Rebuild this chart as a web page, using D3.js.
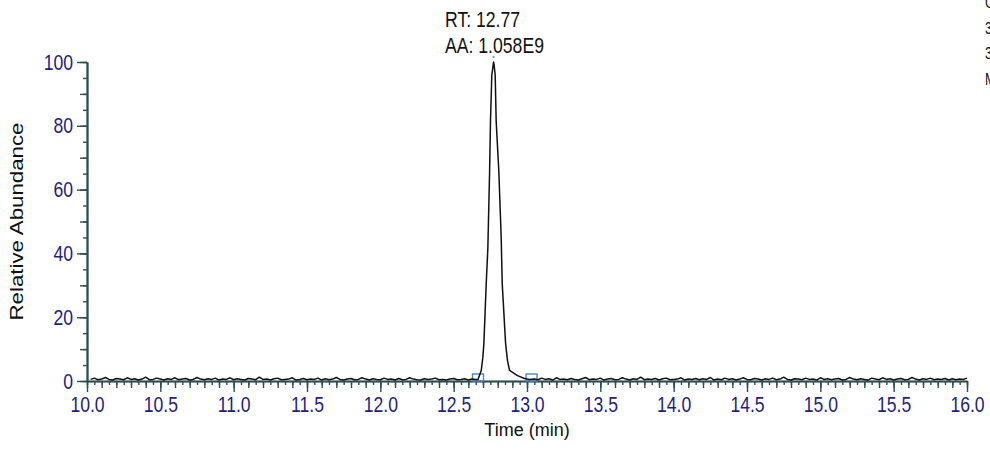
<!DOCTYPE html>
<html>
<head>
<meta charset="utf-8">
<script src="https://cdn.jsdelivr.net/npm/d3@7"></script>
<style>
  body { margin: 0; background: #fff; overflow: hidden; }
  text { font-family: 'Liberation Sans', Arial, sans-serif; }
</style>
</head>
<body>
<div id="chart"></div>
<script>
// baseline noise before the peak, sampled from 10.025 min every 0.025 min
var noiseStart = 10.025;
var noiseStep = 0.025;
var noiseBefore = [
  0.5, 0.9, 0.4, 0.6, 1.1, 0.5, 0.3, 0.8, 0.6, 0.4,
  1.0, 0.5, 0.7, 0.3, 0.6, 1.2, 0.4, 0.5, 0.9, 0.6,
  0.3, 0.7, 0.5, 1.0, 0.4, 0.6, 0.8, 0.3, 0.5, 1.1,
  0.6, 0.4, 0.7, 0.5, 0.9, 0.3, 0.6, 0.5, 1.0, 0.4,
  0.7, 0.5, 0.3, 0.8, 0.6, 0.4, 1.2, 0.5, 0.6, 0.3,
  0.7, 0.9, 0.4, 0.5, 0.6, 1.0, 0.3, 0.5, 0.8, 0.4,
  0.6, 0.5, 0.9, 0.3, 0.7, 0.4, 0.6, 1.1, 0.5, 0.3,
  0.6, 0.8, 0.4, 0.5, 1.0, 0.6, 0.3, 0.7, 0.5, 0.4,
  0.9, 0.5, 0.6, 0.3, 0.8, 0.4, 0.5, 1.0, 0.6, 0.4,
  0.3, 0.7, 0.5, 0.6, 0.9, 0.4, 0.5, 0.3, 0.6, 0.8,
  0.4, 0.5, 0.7, 0.3, 0.6, 0.5
];

// the peak itself
var peakTimes = [12.666, 12.688, 12.699, 12.706, 12.722, 12.733, 12.745, 12.751, 12.760, 12.772, 12.776,
  12.783, 12.790, 12.808, 12.824, 12.831, 12.854, 12.867, 12.881, 12.935, 12.983, 13.017];
var peakValues = [0.5, 3.3, 7.4, 11.8, 30.6, 41.5, 65.6, 81.3, 95.9, 100, 99.0,
  95.9, 81.3, 65.6, 45.0, 30.6, 11.8, 6.4, 3.3, 1.7, 0.8, 0.5];

// baseline noise after the peak, from 13.05 min every 0.025 min
var noiseAfterStart = 13.05;
var noiseAfter = [
  0.6, 0.4, 0.9, 0.5, 0.7, 0.3, 1.0, 0.5, 0.6, 0.4,
  0.8, 0.5, 0.3, 0.7, 1.1, 0.4, 0.6, 0.5, 0.9, 0.3,
  0.6, 0.8, 0.4, 0.5, 1.0, 0.6, 0.3, 0.7, 0.5, 1.2,
  0.4, 0.6, 0.5, 0.8, 0.3, 0.7, 0.9, 0.4, 0.5, 0.6,
  1.0, 0.3, 0.6, 0.5, 0.8, 0.4, 0.7, 0.5, 1.1, 0.3,
  0.6, 0.4, 0.9, 0.5, 0.7, 0.3, 0.6, 1.0, 0.5, 0.4,
  0.8, 0.6, 0.3, 0.7, 0.5, 0.9, 0.4, 0.6, 1.2, 0.5,
  0.3, 0.7, 0.6, 0.4, 0.9, 0.5, 0.6, 0.3, 1.0, 0.5,
  0.7, 0.4, 0.6, 0.8, 0.3, 0.5, 1.1, 0.6, 0.4, 0.7,
  0.5, 0.3, 0.9, 0.6, 0.4, 1.0, 0.5, 0.7, 0.3, 0.6,
  0.8, 0.4, 0.5, 1.1, 0.6, 0.3, 0.7, 0.5, 0.9, 0.4,
  0.6, 0.5, 0.8, 0.3, 0.7, 0.4, 0.6, 0.5, 0.9
];

var xTicks = [10.0, 10.5, 11.0, 11.5, 12.0, 12.5, 13.0, 13.5, 14.0, 14.5, 15.0, 15.5, 16.0];
var yTicks = [0, 20, 40, 60, 80, 100];
var integrationLimits = [12.666, 13.031];
var peakLabel = ['RT: 12.77', 'AA: 1.058E9'];
var sideText = ['C', '3', '3', 'M'];

var width = 990;
var height = 453;
var margin = { top: 62, right: 22, bottom: 72, left: 87 };
var axisColor = '#2f4f4f';
var labelColor = '#1f1f7a';
var narrow = 0.8; // the original uses a condensed face

var svg = d3.select('#chart').append('svg')
  .attr('width', width)
  .attr('height', height);

var x = d3.scaleLinear().domain([10, 16]).range([margin.left, width - margin.right - 1]);
var y = d3.scaleLinear().domain([0, 100]).range([height - margin.bottom, margin.top]);

// build the trace
var trace = [];
noiseBefore.forEach(function (v, i) {
  trace.push([noiseStart + i * noiseStep, v]);
});
peakTimes.forEach(function (t, i) {
  trace.push([t, peakValues[i]]);
});
noiseAfter.forEach(function (v, i) {
  trace.push([noiseAfterStart + i * noiseStep, v]);
});

// minor x ticks
var xMinor = d3.range(100, 161).map(function (d) { return d / 10; });
var xMinor2 = d3.range(200, 321).map(function (d) { return d / 20; });

function styleAxis(g) {
  g.select('.domain').attr('stroke', axisColor).attr('stroke-width', 1.6);
  g.selectAll('.tick line').attr('stroke', axisColor).attr('stroke-width', 1.4);
}

svg.append('g')
  .attr('transform', 'translate(0,' + y(0) + ')')
  .call(d3.axisBottom(x).tickValues(xMinor2).tickSize(4).tickFormat('').tickSizeOuter(0))
  .call(styleAxis);
svg.append('g')
  .attr('transform', 'translate(0,' + y(0) + ')')
  .call(d3.axisBottom(x).tickValues(xMinor).tickSize(7).tickFormat('').tickSizeOuter(0))
  .call(styleAxis);
var xAxis = svg.append('g')
  .attr('transform', 'translate(0,' + y(0) + ')')
  .call(d3.axisBottom(x).tickValues(xTicks).tickSize(11).tickPadding(4).tickFormat(d3.format('.1f')).tickSizeOuter(0))
  .call(styleAxis);
xAxis.selectAll('.tick text')
  .attr('font-family', 'Liberation Sans, Arial, sans-serif')
  .attr('font-size', 22)
  .attr('transform', 'scale(' + narrow + ',1)')
  .attr('fill', labelColor);

svg.append('g')
  .attr('transform', 'translate(' + x(10) + ',0)')
  .call(d3.axisLeft(y).tickValues(d3.range(0, 101, 5)).tickSize(4).tickFormat('').tickSizeOuter(0))
  .call(styleAxis);
svg.append('g')
  .attr('transform', 'translate(' + x(10) + ',0)')
  .call(d3.axisLeft(y).tickValues(d3.range(0, 101, 10)).tickSize(7).tickFormat('').tickSizeOuter(0))
  .call(styleAxis);
var yAxis = svg.append('g')
  .attr('transform', 'translate(' + x(10) + ',0)')
  .call(d3.axisLeft(y).tickValues(yTicks).tickSize(10).tickPadding(4).tickSizeOuter(0))
  .call(styleAxis);
yAxis.selectAll('.tick text')
  .attr('font-family', 'Liberation Sans, Arial, sans-serif')
  .attr('font-size', 22)
  .attr('x', -14 / narrow)
  .attr('transform', 'scale(' + narrow + ',1)')
  .attr('fill', labelColor);

// integration boxes
svg.selectAll('rect.limit')
  .data(integrationLimits)
  .enter()
  .append('rect')
  .attr('class', 'limit')
  .attr('x', function (d) { return x(d) - 5.5; })
  .attr('y', y(0) - 7)
  .attr('width', 11)
  .attr('height', 7)
  .attr('fill', 'none')
  .attr('stroke', '#4f86b8')
  .attr('stroke-width', 1.4);

var line = d3.line()
  .x(function (d) { return x(d[0]); })
  .y(function (d) { return y(d[1]); });

svg.append('path')
  .datum(trace)
  .attr('d', line)
  .attr('fill', 'none')
  .attr('stroke', '#111')
  .attr('stroke-width', 1.5)
  .attr('stroke-linejoin', 'round');

// apex marker
svg.append('rect')
  .attr('x', x(12.772) - 1)
  .attr('y', y(100) - 6)
  .attr('width', 2)
  .attr('height', 2)
  .attr('fill', '#7aa6d6');

svg.selectAll('text.peak')
  .data(peakLabel)
  .enter()
  .append('text')
  .attr('class', 'peak')
  .attr('transform', function (d, i) { return 'translate(445,' + (26.5 + i * 26) + ') scale(0.82,1)'; })
  .attr('font-size', 21.5)
  .attr('fill', '#111')
  .text(function (d) { return d; });

svg.selectAll('text.side')
  .data(sideText)
  .enter()
  .append('text')
  .attr('class', 'side')
  .attr('transform', function (d, i) { return 'translate(985,' + (8 + i * 25.5) + ') scale(0.8,1)'; })
  .attr('font-size', 16)
  .attr('fill', '#111')
  .text(function (d) { return d; });

// axis titles
svg.append('text')
  .attr('x', (x(10) + x(16)) / 2)
  .attr('y', 436)
  .attr('text-anchor', 'middle')
  .attr('font-size', 18)
  .attr('fill', '#111')
  .text('Time (min)');

svg.append('text')
  .attr('transform', 'translate(23,' + y(50) + ') rotate(-90)')
  .attr('text-anchor', 'middle')
  .attr('font-size', 18)
  .attr('textLength', 198)
  .attr('lengthAdjust', 'spacingAndGlyphs')
  .attr('fill', '#111')
  .text('Relative Abundance');
</script>
</body>
</html>
